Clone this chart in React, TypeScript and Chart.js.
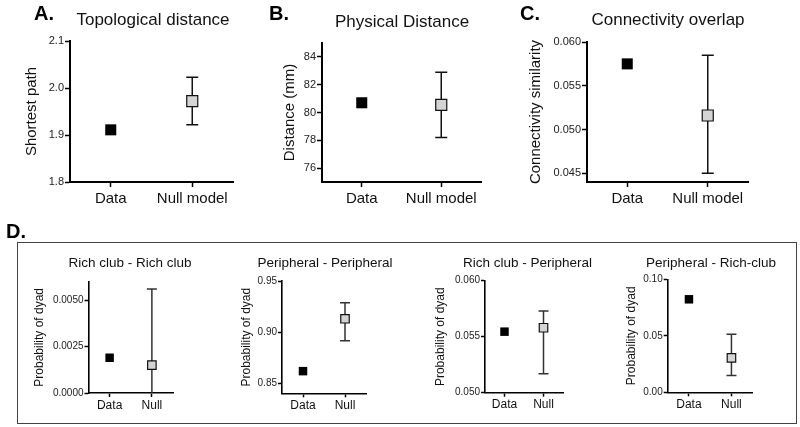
import React, { useEffect, useRef } from 'react';
import { Chart, registerables } from 'chart.js';

Chart.register(...registerables);

const FONT = "'Liberation Sans', Arial, Helvetica, sans-serif";

// ---------- data ----------
const categoriesTop = ['Data', 'Null model'];
const categoriesD = ['Data', 'Null'];

const topoValues = [1.911, 1.972];
const topoErrLow = [null, 1.922];
const topoErrHigh = [null, 2.023];
const topoTicks = [1.8, 1.9, 2.0, 2.1];

const physValues = [80.7, 80.55];
const physErrLow = [null, 78.2];
const physErrHigh = [null, 82.9];
const physTicks = [76, 78, 80, 82, 84];

const overlapValues = [0.0575, 0.0516];
const overlapErrLow = [null, 0.045];
const overlapErrHigh = [null, 0.0585];
const overlapTicks = [0.045, 0.05, 0.055, 0.06];

const rrValues = [0.0019, 0.0015];
const rrErrLow = [null, 0];
const rrErrHigh = [null, 0.0056];
const rrTicks = [0, 0.0025, 0.005];

const ppValues = [0.8617, 0.913];
const ppErrLow = [null, 0.8915];
const ppErrHigh = [null, 0.9288];
const ppTicks = [0.85, 0.9, 0.95];

const rpValues = [0.05545, 0.0558];
const rpErrLow = [null, 0.0517];
const rpErrHigh = [null, 0.0573];
const rpTicks = [0.05, 0.055, 0.06];

const prValues = [0.0823, 0.0305];
const prErrLow = [null, 0.0149];
const prErrHigh = [null, 0.0514];
const prTicks = [0, 0.05, 0.1];

// ---------- layout / style ----------
type Box = { left: number; top: number; width: number; height: number };
type Area = { l: number; t: number; r: number; b: number };
type Spec = {
  title: string;
  yTitle: string;
  categories: string[];
  values: number[];
  errLow: (number | null)[];
  errHigh: (number | null)[];
  ticks: number[];
  decimals: number;
  yMin: number;
  yMax: number;
  canvas: Box;
  area: Area;
  titleY: number;
  titleX: number;
  yTitleX: number;
  titleSize: number;
  yTitleSize: number;
  xTickSize: number;
  yTickSize: number;
  pointRadius: number;
  cap: number;
  axisWidth: number;
  tickLen: number;
  xPad: number;
  errColor: string;
};

const bigStyle = {
  titleSize: 17,
  yTitleSize: 15,
  xTickSize: 15,
  yTickSize: 11,
  pointRadius: 7.8,
  cap: 6,
  axisWidth: 2,
  tickLen: 5,
  xPad: 3,
  errColor: '#111',
};
const smallStyle = {
  titleSize: 13.5,
  yTitleSize: 12,
  xTickSize: 12,
  yTickSize: 10,
  pointRadius: 6,
  cap: 5,
  axisWidth: 1.6,
  tickLen: 4,
  xPad: 1,
  errColor: '#333',
};

const specs: Spec[] = [
  {
    title: 'Topological distance', yTitle: 'Shortest path', categories: categoriesTop,
    values: topoValues, errLow: topoErrLow, errHigh: topoErrHigh, ticks: topoTicks, decimals: 1,
    yMin: 1.8, yMax: 2.1,
    canvas: { left: 0, top: 0, width: 262, height: 230 }, area: { l: 70, t: 41, r: 233, b: 182 },
    titleY: 20, titleX: 153, yTitleX: 31.5, ...bigStyle,
  },
  {
    title: 'Physical Distance', yTitle: 'Distance (mm)', categories: categoriesTop,
    values: physValues, errLow: physErrLow, errHigh: physErrHigh, ticks: physTicks, decimals: 0,
    yMin: 75, yMax: 85,
    canvas: { left: 262, top: 0, width: 258, height: 230 }, area: { l: 322, t: 43, r: 481, b: 182 },
    titleY: 22, titleX: 402, yTitleX: 289.5, ...bigStyle,
  },
  {
    title: 'Connectivity overlap', yTitle: 'Connectivity similarity', categories: categoriesTop,
    values: overlapValues, errLow: overlapErrLow, errHigh: overlapErrHigh, ticks: overlapTicks, decimals: 3,
    yMin: 0.044, yMax: 0.06,
    canvas: { left: 520, top: 0, width: 280, height: 230 }, area: { l: 587, t: 42, r: 748, b: 182 },
    titleY: 20, titleX: 668, yTitleX: 536, ...bigStyle,
  },
  {
    title: 'Rich club - Rich club', yTitle: 'Probability of dyad', categories: categoriesD,
    values: rrValues, errLow: rrErrLow, errHigh: rrErrHigh, ticks: rrTicks, decimals: 4,
    yMin: 0, yMax: 0.006,
    canvas: { left: 19, top: 244, width: 222, height: 176 }, area: { l: 88.5, t: 281.7, r: 173, b: 393 },
    titleY: 263, titleX: 130, yTitleX: 40, ...smallStyle,
  },
  {
    title: 'Peripheral - Peripheral', yTitle: 'Probability of dyad', categories: categoriesD,
    values: ppValues, errLow: ppErrLow, errHigh: ppErrHigh, ticks: ppTicks, decimals: 2,
    yMin: 0.84, yMax: 0.95,
    canvas: { left: 200, top: 244, width: 250, height: 176 }, area: { l: 282, t: 281, r: 366, b: 393.3 },
    titleY: 263, titleX: 325, yTitleX: 247, ...smallStyle,
  },
  {
    title: 'Rich club - Peripheral', yTitle: 'Probability of dyad', categories: categoriesD,
    values: rpValues, errLow: rpErrLow, errHigh: rpErrHigh, ticks: rpTicks, decimals: 3,
    yMin: 0.05, yMax: 0.06,
    canvas: { left: 405, top: 244, width: 245, height: 176 }, area: { l: 485, t: 280.7, r: 563, b: 392.7 },
    titleY: 263, titleX: 527.5, yTitleX: 441, ...smallStyle,
  },
  {
    title: 'Peripheral - Rich-club', yTitle: 'Probability of dyad', categories: categoriesD,
    values: prValues, errLow: prErrLow, errHigh: prErrHigh, ticks: prTicks, decimals: 2,
    yMin: 0, yMax: 0.1,
    canvas: { left: 622, top: 244, width: 178, height: 176 }, area: { l: 667.7, t: 279.3, r: 752.7, b: 392.3 },
    titleY: 263, titleX: 711, yTitleX: 631.7, ...smallStyle,
  },
];

const errorBarsPlugin = {
  id: 'errorBars',
  beforeDatasetsDraw(chart: any, _args: any, opts: any) {
    const { ctx } = chart;
    const x = chart.scales.x;
    const y = chart.scales.y;
    chart.data.datasets.forEach((ds: any) => {
      const lows = ds.errLow as (number | null)[];
      const highs = ds.errHigh as (number | null)[];
      if (!lows || !highs) return;
      ds.data.forEach((_v: number, i: number) => {
        const lo = lows[i];
        const hi = highs[i];
        if (lo == null || hi == null) return;
        const px = x.getPixelForValue(i);
        const yl = y.getPixelForValue(lo);
        const yh = y.getPixelForValue(hi);
        ctx.save();
        ctx.strokeStyle = opts.color;
        ctx.lineWidth = opts.width;
        ctx.beginPath();
        ctx.moveTo(px, yl);
        ctx.lineTo(px, yh);
        ctx.moveTo(px - opts.cap, yh);
        ctx.lineTo(px + opts.cap, yh);
        if (lo > y.min) {
          ctx.moveTo(px - opts.cap, yl);
          ctx.lineTo(px + opts.cap, yl);
        }
        ctx.stroke();
        ctx.restore();
      });
    });
  },
};

// Draws the panel title centred at a given x (page coords) above the plot.
const panelTitlePlugin = {
  id: 'panelTitle',
  afterDraw(chart: any, _args: any, opts: any) {
    const { ctx } = chart;
    ctx.save();
    ctx.font = `normal ${opts.size}px ${FONT}`;
    ctx.fillStyle = '#111';
    ctx.textAlign = 'center';
    ctx.textBaseline = 'middle';
    ctx.fillText(opts.text, opts.x, opts.y);
    ctx.restore();
  },
};

function Panel({ spec }: { spec: Spec }) {
  const ref = useRef<HTMLCanvasElement | null>(null);
  useEffect(() => {
    if (!ref.current) return;
    const s = spec;
    const c = s.canvas;
    const a = s.area;
    const yTitleLH = s.yTitleSize * 1.2;
    const yTitlePadTop = s.yTitleX - c.left - yTitleLH / 2;
    const chart = new Chart(ref.current, {
      type: 'line',
      data: {
        labels: s.categories,
        datasets: [
          {
            data: s.values,
            errLow: s.errLow,
            errHigh: s.errHigh,
            showLine: false,
            pointStyle: 'rect',
            pointRadius: s.pointRadius,
            pointHoverRadius: s.pointRadius,
            pointBackgroundColor: ['#000000', '#d4d4d4'],
            pointBorderColor: ['#000000', '#111111'],
            pointBorderWidth: [0, 1.2],
            clip: false,
          } as any,
        ],
      },
      options: {
        responsive: false,
        animation: false,
        events: [],
        layout: {
          padding: { left: 0, top: a.t - c.top, right: c.left + c.width - a.r, bottom: 0 },
        },
        plugins: {
          legend: { display: false },
          tooltip: { enabled: false },
          title: { display: false },
          panelTitle: {
            text: s.title,
            size: s.titleSize,
            x: s.titleX - c.left,
            y: s.titleY - c.top,
          },
          errorBars: { color: s.errColor, width: 1.5, cap: s.cap },
        } as any,
        scales: {
          x: {
            type: 'category',
            offset: true,
            afterFit: (sc: any) => {
              sc.height = c.top + c.height - a.b;
            },
            grid: {
              offset: false,
              drawOnChartArea: false,
              drawTicks: true,
              tickLength: s.tickLen,
              tickColor: '#000',
              tickWidth: 1.5,
            },
            border: { display: true, color: '#000', width: s.axisWidth },
            ticks: {
              color: '#111',
              font: { family: FONT, size: s.xTickSize },
              padding: s.xPad,
              maxRotation: 0,
              autoSkip: false,
            },
          },
          y: {
            type: 'linear',
            min: s.yMin,
            max: s.yMax,
            afterBuildTicks: (sc: any) => {
              sc.ticks = s.ticks.map((v) => ({ value: v }));
            },
            afterFit: (sc: any) => {
              sc.width = a.l - c.left;
            },
            grid: {
              drawOnChartArea: false,
              drawTicks: true,
              tickLength: s.tickLen,
              tickColor: '#000',
              tickWidth: 1.5,
            },
            border: { display: true, color: '#000', width: s.axisWidth },
            ticks: {
              color: '#222',
              font: { family: FONT, size: s.yTickSize },
              padding: 1,
              autoSkip: false,
              callback: (v: any) => Number(v).toFixed(s.decimals),
            },
            title: {
              display: true,
              text: s.yTitle,
              color: '#111',
              font: { family: FONT, size: s.yTitleSize },
              padding: { top: yTitlePadTop, bottom: 0 },
            },
          },
        },
      },
      plugins: [errorBarsPlugin, panelTitlePlugin],
    } as any);
    return () => chart.destroy();
  }, [spec]);
  return (
    <canvas
      ref={ref}
      width={spec.canvas.width}
      height={spec.canvas.height}
      style={{
        position: 'absolute',
        left: spec.canvas.left,
        top: spec.canvas.top,
        width: spec.canvas.width,
        height: spec.canvas.height,
      }}
    />
  );
}

const letterStyle: React.CSSProperties = {
  position: 'absolute',
  fontFamily: FONT,
  fontWeight: 'bold',
  fontSize: 20,
  lineHeight: '20px',
  color: '#000',
};

export default function App() {
  return (
    <div
      style={{
        position: 'absolute',
        left: 0,
        top: 0,
        width: 800,
        height: 427,
        background: '#fff',
        overflow: 'hidden',
      }}
    >
      <div
        style={{
          position: 'absolute',
          left: 17,
          top: 242,
          width: 778,
          height: 180,
          border: '1.5px solid #444',
        }}
      />
      {specs.map((s, i) => (
        <Panel key={i} spec={s} />
      ))}
      <div style={{ ...letterStyle, left: 34, top: 3 }}>A.</div>
      <div style={{ ...letterStyle, left: 269, top: 3 }}>B.</div>
      <div style={{ ...letterStyle, left: 520, top: 3 }}>C.</div>
      <div style={{ ...letterStyle, left: 6, top: 221 }}>D.</div>
    </div>
  );
}
